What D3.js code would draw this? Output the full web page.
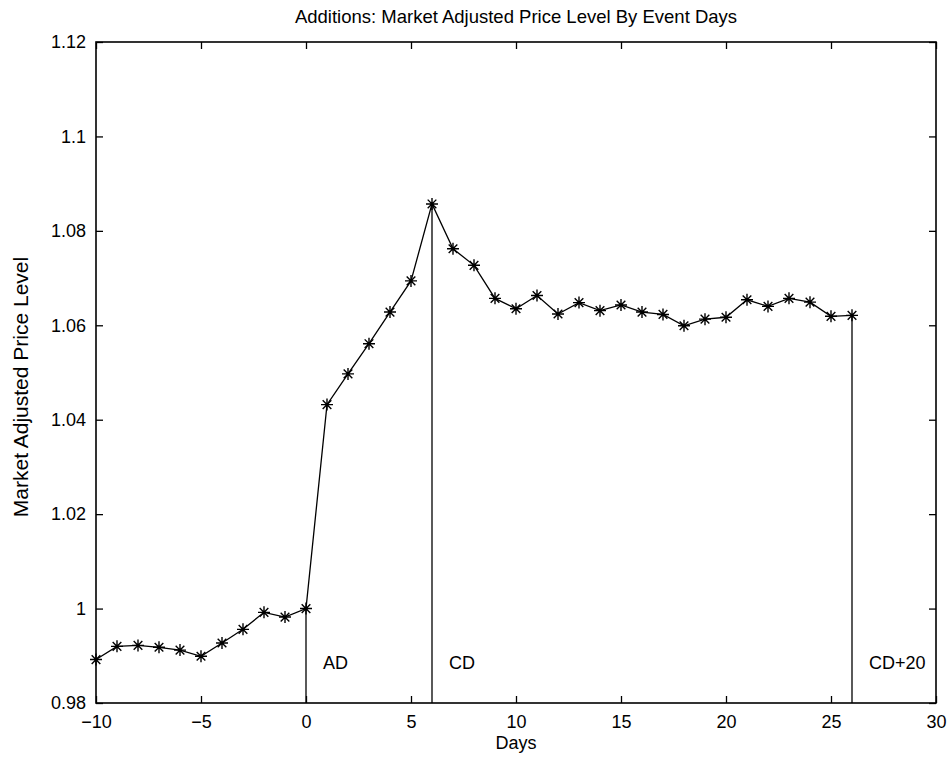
<!DOCTYPE html>
<html>
<head>
<meta charset="utf-8">
<script src="https://cdn.jsdelivr.net/npm/d3@7/dist/d3.min.js"></script>
<style>
  html, body { margin: 0; padding: 0; background: #fff; }
  svg { display: block; font-family: "Liberation Sans", Arial, Helvetica, sans-serif; }
</style>
</head>
<body>
<svg id="chart" width="949" height="757"></svg>
<script>
// Event-day series: market adjusted price level for index additions
const days = [-10, -9, -8, -7, -6, -5, -4, -3, -2, -1, 0, 1, 2, 3, 4, 5, 6, 7, 8, 9,
  10, 11, 12, 13, 14, 15, 16, 17, 18, 19, 20, 21, 22, 23, 24, 25, 26];
const priceLevel = [0.9892, 0.9920, 0.9922, 0.9918, 0.9912, 0.9899, 0.9927, 0.9956, 0.9992, 0.9982,
  1.0000, 1.0432, 1.0497, 1.0561, 1.0628, 1.0694, 1.0857, 1.0762, 1.0727, 1.0657,
  1.0635, 1.0663, 1.0624, 1.0648, 1.0631, 1.0643, 1.0628, 1.0623, 1.0599, 1.0613,
  1.0617, 1.0654, 1.0640, 1.0657, 1.0649, 1.0619, 1.0621];
const xTicks = [-10, -5, 0, 5, 10, 15, 20, 25, 30];
const yTicks = [0.98, 1.0, 1.02, 1.04, 1.06, 1.08, 1.1, 1.12];
const yTickLabels = ["0.98", "1", "1.02", "1.04", "1.06", "1.08", "1.1", "1.12"];
// Event markers: announcement day, change day, change day + 20
const eventDays = [0, 6, 26];
const eventLabels = ["AD", "CD", "CD+20"];

const title = "Additions: Market Adjusted Price Level By Event Days";
const xLabel = "Days";
const yLabel = "Market Adjusted Price Level";

const W = 949, H = 757;
const margin = { left: 96, top: 42, right: 13, bottom: 54 };
const svg = d3.select("#chart");

const x = d3.scaleLinear().domain([-10, 30]).range([margin.left, W - margin.right]);
const y = d3.scaleLinear().domain([0.98, 1.12]).range([H - margin.bottom, margin.top]);

const x0 = x.range()[0], x1 = x.range()[1];
const y0 = y.range()[0], y1 = y.range()[1];
const tickLen = 7;
const fontSize = 18;
const fmtY = d => yTickLabels[yTicks.indexOf(d)];

// Bottom axis with inward ticks
svg.append("g")
  .attr("transform", `translate(0,${y0})`)
  .call(d3.axisBottom(x).tickValues(xTicks).tickSize(-tickLen).tickPadding(tickLen + 5)
    .tickFormat(d => d < 0 ? "\u2212" + Math.abs(d) : String(d)))
  .call(g => g.select(".domain").remove())
  .call(g => g.selectAll("text").attr("font-size", fontSize).attr("fill", "#000"));

// Top axis ticks (no labels)
svg.append("g")
  .attr("transform", `translate(0,${y1})`)
  .call(d3.axisTop(x).tickValues(xTicks).tickSize(-tickLen).tickFormat(""))
  .call(g => g.select(".domain").remove());

// Left axis with inward ticks
svg.append("g")
  .attr("transform", `translate(${x0},0)`)
  .call(d3.axisLeft(y).tickValues(yTicks).tickSize(-tickLen).tickPadding(tickLen + 3)
    .tickFormat(fmtY))
  .call(g => g.select(".domain").remove())
  .call(g => g.selectAll("text").attr("font-size", fontSize).attr("fill", "#000"));

// Right axis ticks (no labels)
svg.append("g")
  .attr("transform", `translate(${x1},0)`)
  .call(d3.axisRight(y).tickValues(yTicks).tickSize(-tickLen).tickFormat(""))
  .call(g => g.select(".domain").remove());

svg.selectAll(".tick line").attr("stroke", "#000").attr("stroke-width", 1.3);

// Plot frame
svg.append("rect")
  .attr("x", x0).attr("y", y1)
  .attr("width", x1 - x0).attr("height", y0 - y1)
  .attr("fill", "none").attr("stroke", "#000").attr("stroke-width", 1.6);

const data = days.map((d, i) => ({ day: d, value: priceLevel[i] }));
const valueAt = d => priceLevel[days.indexOf(d)];

// Vertical event lines from the series down to the x axis
svg.append("g").selectAll("line")
  .data(eventDays)
  .join("line")
  .attr("x1", d => x(d)).attr("x2", d => x(d))
  .attr("y1", d => y(valueAt(d))).attr("y2", y0)
  .attr("stroke", "#000").attr("stroke-width", 1.3);

// Event labels
svg.append("g").selectAll("text")
  .data(eventDays)
  .join("text")
  .attr("x", d => x(d) + 17)
  .attr("y", y(0.9872))
  .attr("font-size", fontSize)
  .attr("fill", "#000")
  .text((d, i) => eventLabels[i]);

// Series line
svg.append("path")
  .datum(data)
  .attr("fill", "none")
  .attr("stroke", "#000")
  .attr("stroke-width", 1.3)
  .attr("d", d3.line().x(d => x(d.day)).y(d => y(d.value)));

// Asterisk markers
const r = 6, rd = r * 0.72;
const star = `M${-r},0L${r},0M0,${-r}L0,${r}M${-rd},${-rd}L${rd},${rd}M${-rd},${rd}L${rd},${-rd}`;
svg.append("g").selectAll("path")
  .data(data)
  .join("path")
  .attr("transform", d => `translate(${x(d.day)},${y(d.value)})`)
  .attr("d", star)
  .attr("fill", "none")
  .attr("stroke", "#000")
  .attr("stroke-width", 1.4);

// Title and axis labels
svg.append("text")
  .attr("x", (x0 + x1) / 2).attr("y", 23)
  .attr("text-anchor", "middle").attr("font-size", 18.5).attr("fill", "#000")
  .text(title);

svg.append("text")
  .attr("x", (x0 + x1) / 2).attr("y", 749)
  .attr("text-anchor", "middle").attr("font-size", fontSize).attr("fill", "#000")
  .text(xLabel);

svg.append("text")
  .attr("transform", `translate(28,387) rotate(-90)`)
  .attr("text-anchor", "middle").attr("font-size", 21).attr("fill", "#000")
  .text(yLabel);
</script>
</body>
</html>
